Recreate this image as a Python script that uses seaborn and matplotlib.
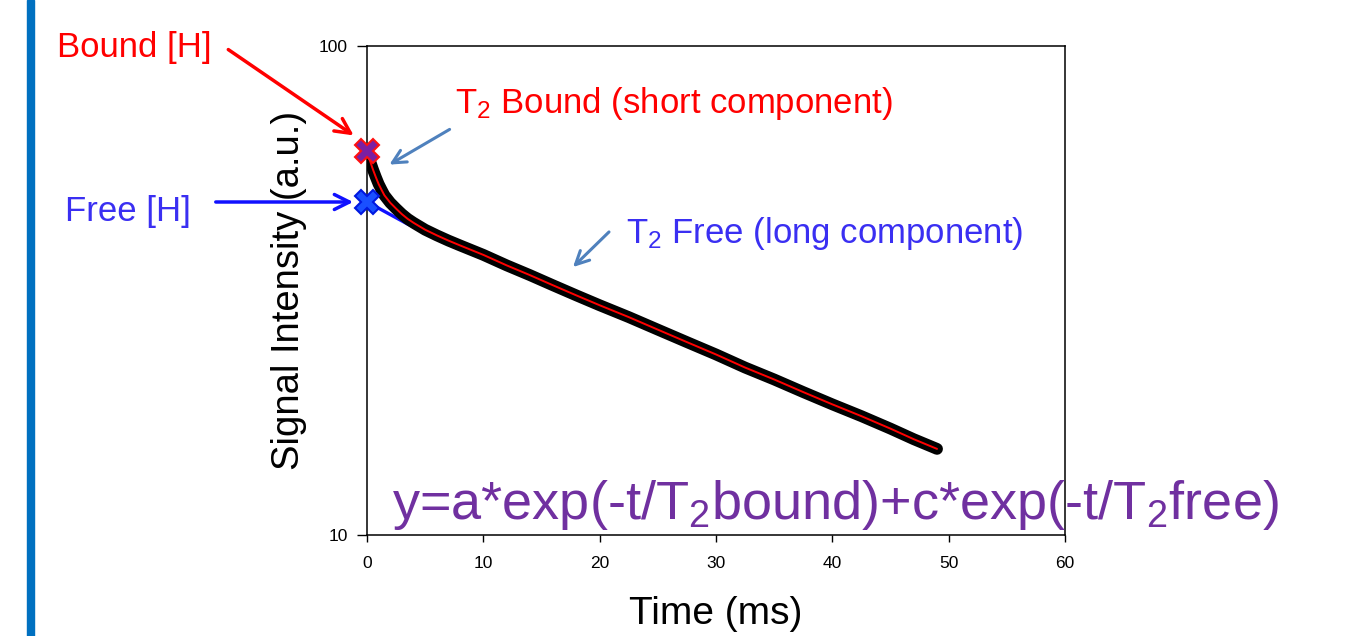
import numpy as np
import pandas as pd
import matplotlib
matplotlib.use("Agg")
import matplotlib.pyplot as plt
from matplotlib.patches import Rectangle
import seaborn as sns

# ---- data ----
time_ms = [0, 0.25, 0.5, 0.75, 1, 1.25, 1.5, 2, 2.5, 3, 3.5, 4, 5, 6, 7, 8, 10, 12,
           14, 16, 18, 20, 22.5, 25, 27.5, 30, 32.5, 35, 37.5, 40, 42.5, 45, 47, 49]
signal = [61.0, 58.3, 56.0, 54.0, 52.2, 50.8, 49.5, 47.8, 46.5, 45.3, 44.3, 43.5,
          42.1, 41.0, 40.0, 39.1, 37.4, 35.6, 34.0, 32.4, 30.9, 29.5, 27.9, 26.3,
          24.8, 23.4, 22.0, 20.8, 19.6, 18.5, 17.5, 16.5, 15.7, 15.0]
fit_signal = signal
free_line_t = [0, 3.6]
free_line_y = [48.0, 43.1]
bound_point = (0, 61.0)
free_point = (0, 48.0)
x_ticks = [0, 10, 20, 30, 40, 50, 60]
y_ticks = [10, 100]

sns.set_theme(style="white")
plt.rcParams['font.family'] = ['Liberation Sans', 'DejaVu Sans']
plt.rcParams['mathtext.default'] = 'regular'

W, H = 1351, 636
fig = plt.figure(figsize=(W / 100, H / 100), dpi=100)
fig.patch.set_facecolor('white')
ax = fig.add_axes([367 / W, (H - 535) / H, (1065 - 367) / W, (535 - 46) / H])

df = pd.DataFrame({'t': time_ms, 'y': signal, 'fit': fit_signal})

ax.plot(free_line_t, free_line_y, color='#1010ff', lw=2.4, zorder=2, clip_on=False)
sns.lineplot(data=df, x='t', y='y', ax=ax, color='black', lw=8.5, zorder=3,
             solid_capstyle='round', solid_joinstyle='round')
sns.lineplot(data=df, x='t', y='fit', ax=ax, color='#ff0000', lw=1.4, zorder=4)

ax.plot([bound_point[0]], [bound_point[1]], marker='X', ms=17, mfc='#7b1fa2',
        mec='#ff1010', mew=1.5, zorder=6, clip_on=False)
ax.plot([free_point[0]], [free_point[1]], marker='X', ms=17, mfc='#1a50ff',
        mec='#0018e0', mew=1.5, zorder=6, clip_on=False)

ax.set_yscale('log')
ax.set_xlim(0, 60)
ax.set_ylim(10, 100)
ax.set_xticks(x_ticks)
ax.set_xticklabels([str(v) for v in x_ticks])
ax.set_yticks(y_ticks)
ax.set_yticklabels([str(v) for v in y_ticks])
ax.minorticks_off()
ax.yaxis.set_minor_locator(matplotlib.ticker.NullLocator())
ax.tick_params(axis='both', which='major', direction='out', width=1,
               color='black', labelsize=12.5, labelcolor='black', left=True, bottom=True)
ax.tick_params(axis='x', length=5, pad=10)
ax.tick_params(axis='y', length=7, pad=7)
for s in ax.spines.values():
    s.set_visible(True)
    s.set_color('black')
    s.set_linewidth(1.1)
ax.set_xlabel('Time (ms)', fontsize=28, color='black', labelpad=18)
ax.set_ylabel('Signal Intensity (a.u.)', fontsize=27.5, color='black', labelpad=8)
ax.grid(False)
ax.set_facecolor('white')

# left decorative blue bar
fig.patches.append(Rectangle((27 / W, 0), 7 / W, 1, transform=fig.transFigure,
                             color='#0070c0', zorder=0))

def fp(x, y):
    return (x, H - y)

red = '#ff0000'
blue_txt = '#3a2ff2'
steel = '#4f81bd'
purple = '#7030a0'

ax.annotate('Bound [H]', xy=fp(57, 48), xycoords='figure pixels',
            fontsize=25, color=red, ha='left', va='center', zorder=1)
ax.annotate('', xy=fp(356, 137), xycoords='figure pixels',
            xytext=fp(226, 48), textcoords='figure pixels',
            arrowprops=dict(arrowstyle='->,head_length=0.9,head_width=0.45',
                            color=red, lw=2.5))

ax.annotate('Free [H]', xy=fp(65, 212), xycoords='figure pixels',
            fontsize=25, color=blue_txt, ha='left', va='center')
ax.annotate('', xy=fp(356, 202), xycoords='figure pixels',
            xytext=fp(213, 202), textcoords='figure pixels',
            arrowprops=dict(arrowstyle='->,head_length=0.9,head_width=0.45',
                            color='#1010ff', lw=2.5))

ax.annotate(r'T$_2$ Bound (short component)', xy=fp(455, 104), xycoords='figure pixels',
            fontsize=25, color=red, ha='left', va='center')
ax.annotate('', xy=fp(387, 166), xycoords='figure pixels',
            xytext=fp(452, 128), textcoords='figure pixels',
            arrowprops=dict(arrowstyle='->,head_length=0.8,head_width=0.4',
                            color=steel, lw=2.2))

ax.annotate(r'T$_2$ Free (long component)', xy=fp(626, 233), xycoords='figure pixels',
            fontsize=25, color=blue_txt, ha='left', va='center')
ax.annotate('', xy=fp(571, 269), xycoords='figure pixels',
            xytext=fp(611, 230), textcoords='figure pixels',
            arrowprops=dict(arrowstyle='->,head_length=0.8,head_width=0.4',
                            color=steel, lw=2.2))

ax.annotate(r'y=a*exp(-t/T$_2$bound)+c*exp(-t/T$_2$free)', xy=fp(392, 505),
            xycoords='figure pixels', fontsize=39, color=purple,
            ha='left', va='center', zorder=10)

fig.savefig('out.png', dpi=100, facecolor='white')
